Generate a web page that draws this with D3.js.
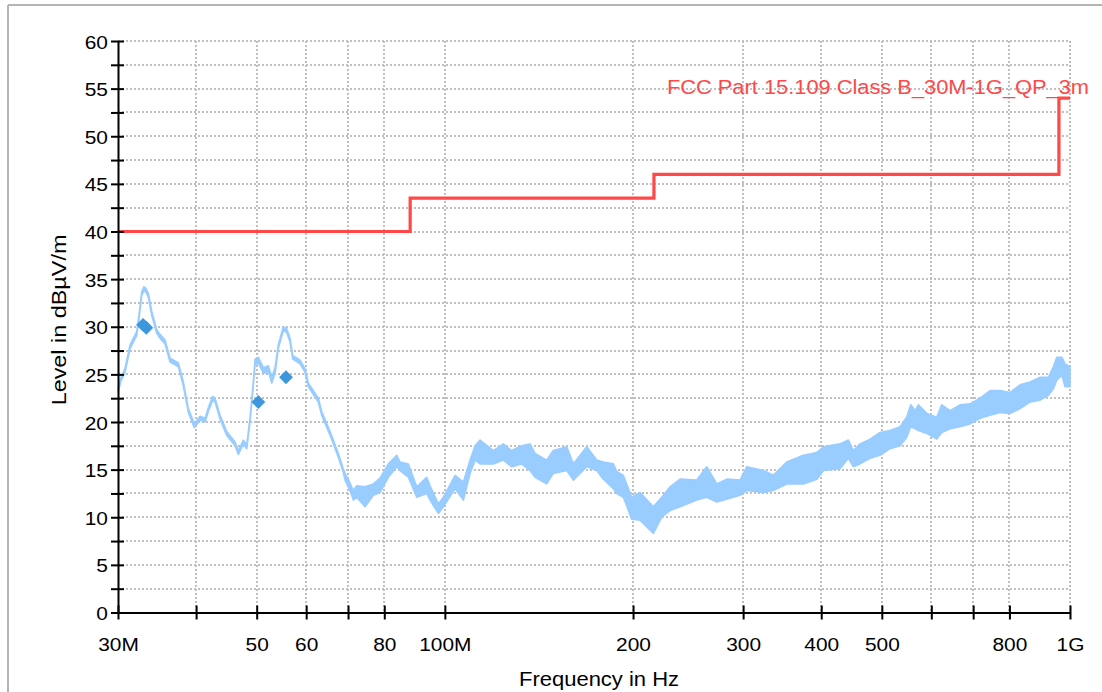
<!DOCTYPE html>
<html>
<head>
<meta charset="utf-8">
<script src="https://cdn.jsdelivr.net/npm/d3@7"></script>
<style>
  html, body { margin: 0; padding: 0; background: #ffffff; }
  svg { display: block; }
  text { font-family: "Liberation Sans", Arial, sans-serif; fill: #000; }
</style>
</head>
<body>
<svg id="chart" width="1102" height="692"></svg>
<script>
// ---- Sweep trace: frequency (MHz) with lower / upper envelope (dBµV/m) ----
const traceFreq = [
  30.0, 30.33, 30.78, 31.36, 32.14, 32.41, 32.74, 33.01, 33.26, 33.55,
  33.97, 34.60, 35.02, 35.67, 36.34, 37.01, 37.47, 38.16, 38.87, 39.74,
  40.58, 41.34, 41.95, 42.53, 42.89, 43.69, 44.78, 46.17, 46.74, 47.60,
  48.20, 48.79, 49.38, 49.70, 50.30, 51.23, 52.19, 52.85, 53.50, 54.14,
  55.15, 55.85, 56.53, 57.10, 58.66, 59.75, 60.47, 62.74, 63.54, 65.52,
  67.54, 68.80,
  69.23, 70.51, 71.38, 72.29, 74.52, 76.84, 78.75, 81.20, 83.77, 84.78,
  87.41, 90.16, 93.54, 94.69, 97.64, 99.45, 103.84, 107.07, 109.73, 111.77,
  113.85, 119.54, 124.03, 127.92, 132.72, 136.85, 139.39, 145.53, 149.12, 156.65,
  160.52, 168.63, 174.95, 179.28, 186.00, 188.33, 192.98, 199.02, 205.22, 215.54,
  222.30, 229.21, 237.80, 252.89, 262.38, 272.23, 282.42, 296.64, 304.04, 323.15,
  335.26, 352.27, 374.63, 393.57, 403.31, 428.67, 442.00, 450.23, 461.45, 478.76,
  496.73, 515.37, 534.71, 548.05, 556.19, 565.10, 572.03, 589.95, 612.10, 623.47,
  642.87, 666.99, 692.03, 718.00, 744.94, 772.90, 801.90, 832.00, 863.22, 895.61,
  923.47, 940.63, 952.40, 970.11, 982.02, 1000
];
const traceLow = [
  23.1, 24.3, 25.2, 27.7, 29.1, 30.8, 33.3, 33.8, 33.6, 33.1,
  31.2, 29.3, 28.8, 28.2, 26.3, 26.0, 25.8, 23.8, 21.0, 19.4,
  20.2, 20.0, 21.3, 22.3, 22.1, 20.3, 18.6, 17.5, 16.6, 17.7,
  17.2, 20.0, 23.8, 26.0, 26.2, 25.1, 25.3, 24.1, 25.1, 27.7,
  29.6, 29.4, 28.4, 26.6, 26.1, 25.2, 23.7, 22.1, 20.7, 18.6,
  16.3, 14.7,
  13.9, 12.8, 11.8, 12.1, 11.1, 12.3, 12.6, 14.2, 15.3, 14.9,
  14.2, 12.1, 12.5, 11.8, 10.4, 11.1, 13.0, 11.8, 14.6, 16.0,
  15.6, 15.6, 16.0, 15.3, 15.6, 14.9, 14.2, 13.5, 14.6, 14.9,
  13.9, 15.3, 14.9, 14.0, 13.0, 12.5, 12.1, 9.8, 9.7, 8.3,
  10.0, 10.7, 11.1, 11.8, 12.1, 11.6, 11.9, 12.3, 12.8, 12.6,
  12.8, 13.5, 13.5, 14.0, 14.9, 15.1, 16.2, 15.3, 15.6, 16.2,
  16.5, 17.2, 17.5, 18.4, 19.5, 19.3, 19.1, 18.8, 18.2, 18.9,
  19.3, 19.5, 19.8, 20.4, 20.7, 21.0, 20.9, 21.4, 22.1, 22.3,
  22.8, 23.5, 24.4, 24.9, 23.7, 23.7
];
const traceHigh = [
  23.5, 24.7, 25.6, 28.1, 29.5, 31.2, 33.7, 34.2, 34.0, 33.5,
  31.6, 29.7, 29.2, 28.6, 26.7, 26.4, 26.2, 24.2, 21.4, 19.8,
  20.6, 20.4, 21.7, 22.7, 22.5, 20.7, 19.0, 17.9, 17.0, 18.1,
  17.6, 20.4, 24.2, 26.6, 26.8, 25.7, 25.9, 24.7, 25.7, 28.1,
  30.0, 29.8, 28.8, 27.0, 26.5, 25.6, 24.1, 22.5, 21.1, 19.0,
  16.7, 15.1,
  14.6, 13.6, 12.8, 13.3, 13.2, 13.5, 14.1, 15.6, 16.5, 15.8,
  15.6, 13.2, 14.2, 13.3, 11.4, 12.1, 14.4, 13.7, 16.0, 17.5,
  18.1, 17.0, 17.7, 17.0, 17.5, 17.7, 16.7, 16.0, 17.0, 17.4,
  15.6, 17.4, 16.0, 15.8, 15.6, 14.8, 14.4, 12.1, 12.6, 11.1,
  12.1, 13.2, 14.0, 13.9, 15.3, 13.5, 14.0, 13.9, 15.3, 14.9,
  14.4, 15.8, 16.5, 16.8, 17.4, 17.7, 18.1, 17.0, 17.7, 18.2,
  18.9, 19.1, 19.5, 20.5, 21.8, 21.2, 21.8, 20.9, 20.5, 21.8,
  21.2, 21.8, 21.9, 22.5, 23.3, 23.3, 23.1, 23.9, 24.2, 24.7,
  24.7, 25.8, 26.8, 26.8, 26.1, 25.8
];

// ---- Quasi-peak final measurements ----
const qpFreq  = [32.9, 33.3, 50.3, 55.7];
const qpLevel = [30.2, 29.9, 22.1, 24.7];

// ---- Limit line ----
const limitFreq  = [30, 88, 88, 216, 216, 960, 960, 1000];
const limitLevel = [40, 40, 43.5, 43.5, 46, 46, 54, 54];
const limitName  = "FCC Part 15.109 Class B_30M-1G_QP_3m";

// ---- Axis ticks ----
const xTickValues = [30, 40, 50, 60, 70, 80, 100, 200, 300, 400, 500, 600, 700, 800, 1000];
const xTickLabels = { 30: "30M", 50: "50", 60: "60", 80: "80", 100: "100M",
                      200: "200", 300: "300", 400: "400", 500: "500", 800: "800", 1000: "1G" };
const yMajorTicks = [0, 5, 10, 15, 20, 25, 30, 35, 40, 45, 50, 55, 60];
const yMinorTicks = [2.5, 7.5, 12.5, 17.5, 22.5, 27.5, 32.5, 37.5, 42.5, 47.5, 52.5, 57.5];
const xTitle = "Frequency in Hz";
const yTitle = "Level in dBµV/m";

// ---- Layout ----
const plot = { left: 118, right: 1070, top: 41, bottom: 612.5 };
const textScaleX = 1.1;
const colTrace = "#99ccff", colMarker = "#3c97dc", colLimit = "#ff4848";

const svg = d3.select("#chart");

// window frame
svg.append("line").attr("x1", 8).attr("y1", 5).attr("x2", 8).attr("y2", 692)
  .attr("stroke", "#b4b4b4").attr("stroke-width", 2);
svg.append("line").attr("x1", 8).attr("y1", 5).attr("x2", 1102).attr("y2", 5)
  .attr("stroke", "#b4b4b4").attr("stroke-width", 2);

const x = d3.scaleLog().domain([30, 1000]).range([plot.left, plot.right]);
const y = d3.scaleLinear().domain([0, 60]).range([plot.bottom, plot.top]);

// grid
const grid = svg.append("g").attr("stroke", "#c0c0c0").attr("stroke-width", 2)
  .attr("stroke-dasharray", "2,2").attr("shape-rendering", "crispEdges");
grid.selectAll("line.h").data(yMajorTicks.concat(yMinorTicks).filter(d => d > 0))
  .join("line").attr("class", "h")
  .attr("x1", plot.left).attr("x2", plot.right)
  .attr("y1", d => Math.round(y(d))).attr("y2", d => Math.round(y(d)));
grid.selectAll("line.v").data(xTickValues.filter(d => d > 30))
  .join("line").attr("class", "v")
  .attr("y1", plot.top).attr("y2", plot.bottom)
  .attr("x1", d => Math.round(x(d))).attr("x2", d => Math.round(x(d)));

// measured trace envelope
const traceData = traceFreq.map((f, i) => ({ f, lo: traceLow[i], hi: traceHigh[i] }));
const area = d3.area().x(d => x(d.f)).y0(d => y(d.lo)).y1(d => y(d.hi));
svg.append("path").datum(traceData).attr("d", area)
  .attr("fill", colTrace).attr("stroke", colTrace).attr("stroke-width", 1.6)
  .attr("stroke-linejoin", "round");

// limit line
const limitData = limitFreq.map((f, i) => ({ f, v: limitLevel[i] }));
svg.append("path").datum(limitData)
  .attr("d", d3.line().x(d => x(d.f)).y(d => y(d.v)))
  .attr("fill", "none").attr("stroke", colLimit).attr("stroke-width", 3.2);

// quasi-peak markers
const diamond = d3.symbol().type(d3.symbolSquare).size(96);
svg.append("g").selectAll("path")
  .data(qpFreq.map((f, i) => ({ f, v: qpLevel[i] })))
  .join("path")
  .attr("d", diamond)
  .attr("transform", d => `translate(${x(d.f)},${y(d.v)}) rotate(45)`)
  .attr("fill", colMarker);

// y axis
const yAxis = d3.axisLeft(y).tickValues(yMajorTicks).tickSizeOuter(0).tickFormat(d3.format("d"));
const gy = svg.append("g").attr("transform", `translate(${plot.left},0)`).call(yAxis);
gy.select(".domain").attr("stroke", "#000").attr("stroke-width", 2);
gy.selectAll(".tick line").attr("x1", 6).attr("x2", -7).attr("stroke", "#000").attr("stroke-width", 2);
gy.selectAll(".tick text")
  .attr("x", null).attr("dy", null)
  .attr("transform", "translate(-10,7) scale(" + textScaleX + ",1)")
  .attr("text-anchor", "end").style("font-size", "19px").attr("font-family", null);
const yMinor = d3.axisLeft(y).tickValues(yMinorTicks).tickSizeOuter(0).tickFormat("");
const gym = svg.append("g").attr("transform", `translate(${plot.left},0)`).call(yMinor);
gym.select(".domain").remove();
gym.selectAll(".tick line").attr("x1", 6).attr("x2", -7).attr("stroke", "#000").attr("stroke-width", 2);

// x axis
const xAxis = d3.axisBottom(x).tickValues(xTickValues).tickSizeOuter(0)
  .tickFormat(d => xTickLabels[d] || "");
const gx = svg.append("g").attr("transform", `translate(0,${plot.bottom})`).call(xAxis);
gx.select(".domain").attr("stroke", "#000").attr("stroke-width", 2);
gx.selectAll(".tick line").attr("y1", -7).attr("y2", 7).attr("stroke", "#000").attr("stroke-width", 2);
gx.selectAll(".tick text")
  .attr("y", null).attr("dy", null)
  .attr("transform", "translate(0,38) scale(" + textScaleX + ",1)")
  .attr("text-anchor", "middle").style("font-size", "19px").attr("font-family", null);
svg.selectAll(".domain").attr("fill", "none");

// axis titles
svg.append("text").attr("transform", `translate(599,686) scale(${textScaleX},1)`)
  .attr("text-anchor", "middle").style("font-size", "20px").text(xTitle);
svg.append("text").attr("transform", `translate(66,320) rotate(-90) scale(1.17,1)`)
  .attr("text-anchor", "middle").style("font-size", "20px").text(yTitle);

// limit legend
svg.append("text").attr("transform", `translate(1089,94) scale(1.12,1)`)
  .attr("text-anchor", "end").style("font-size", "19.5px")
  .style("fill", colLimit).text(limitName);
</script>
</body>
</html>
